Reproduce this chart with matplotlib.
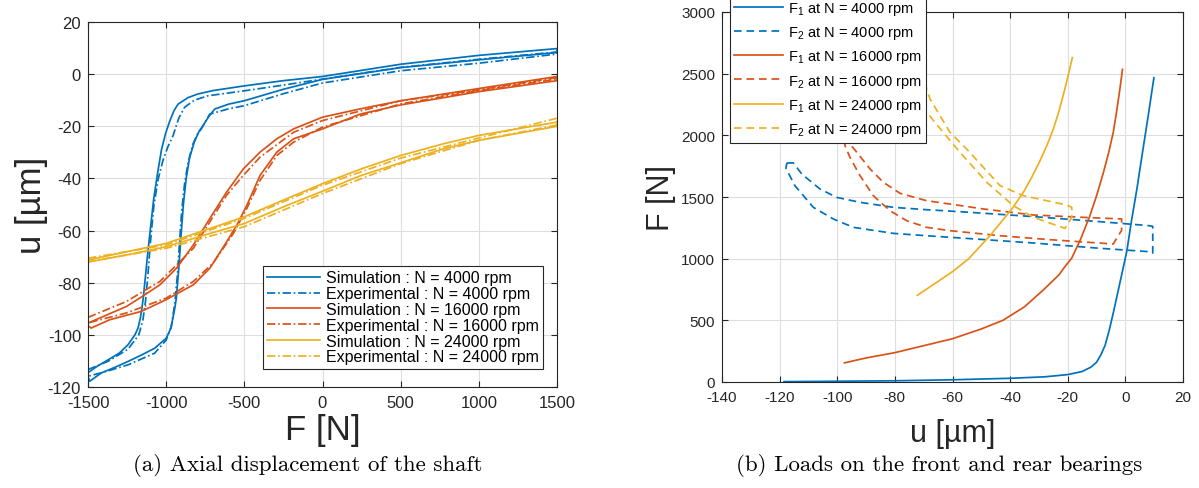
import numpy as np
import matplotlib.pyplot as plt

plt.rcParams['font.family'] = ['Liberation Sans', 'DejaVu Sans']
plt.rcParams['axes.unicode_minus'] = False
plt.rcParams['mathtext.fontset'] = 'custom'
plt.rcParams['mathtext.rm'] = 'Liberation Sans'
plt.rcParams['lines.scale_dashes'] = False

BLUE, RED, YEL = '#0072BD', '#D95319', '#EDB120'
INK = '#262626'

# ---------------- (a) axial displacement u [um] vs axial force F [N] ----------------
# each loop = upper branch + lower branch
sim4k_up_F = [-1500, -1440, -1372, -1300, -1244, -1200, -1180, -1165, -1155, -1145, -1135, -1120, -1103, -1080,
              -1055, -1030, -1005, -980, -950, -924, -860, -797, -700, -500, -250, 0, 500, 1000, 1500]
sim4k_up_u = [-114.5, -112, -109.6, -107, -103.8, -100, -97.4, -93.5, -89.8, -85, -79, -70, -60.5, -48,
              -38, -29, -23, -18.5, -14, -11.5, -9, -7.6, -6.3, -4.5, -2.5, -0.9, 3.8, 7.2, 9.8]
sim4k_lo_F = [-1500, -1489, -1415, -1330, -1244, -1150, -1073, -1000, -970, -957, -945, -935, -920, -905,
              -890, -872, -850, -820, -790, -764, -730, -690, -600, -500, -250, 0, 500, 1000, 1500]
sim4k_lo_u = [-116, -117.8, -114.6, -112.5, -110.2, -107.5, -105.1, -101.3, -97.5, -93.6, -89.8, -86, -75, -62,
              -50, -40, -32, -26, -22, -19.7, -16.5, -13.4, -11.5, -10.2, -5.8, -2.0, 2.5, 5.5, 8.3]
exp4k_up_F = [-1500, -1370, -1244, -1175, -1148, -1132, -1118, -1100, -1078, -1050, -1020, -990,
              -956, -920, -882, -820, -733, -500, -250, 0, 500, 1000, 1500]
exp4k_up_u = [-113.3, -110.1, -105.5, -100, -94, -87, -78, -64, -50, -40, -33, -28,
              -23.6, -17, -12.7, -10, -8.3, -6.4, -4.2, -1.9, 2.6, 5.7, 8.5]
exp4k_lo_F = [-1500, -1370, -1244, -1073, -1000, -967, -945, -928, -915, -900, -882, -860,
              -830, -800, -775, -721, -600, -500, -250, 0, 500, 1000, 1500]
exp4k_lo_u = [-115.9, -113.8, -111.5, -107, -102, -96.8, -88, -77, -65, -52, -42, -34,
              -27, -23, -21, -15.3, -13.3, -12.1, -7.5, -3.4, 1.3, 4.2, 7.7]

sim16k_up_F = [-1500, -1254, -1159, -1040, -933, -826, -720, -613, -506, -399, -292, -185, 0, 243, 501, 1002, 1500]
sim16k_up_u = [-95.5, -89.1, -85.5, -80.8, -74.4, -65.5, -55.3, -45.2, -36.3, -29.9, -24.8, -21.0, -16.5,
               -13.3, -10.2, -5.5, -0.9]
sim16k_lo_F = [-1500, -1480, -1361, -1159, -1000, -826, -720, -613, -548, -484, -399, -292, -185, 0, 243, 501,
               1002, 1500]
sim16k_lo_u = [-96.5, -97.4, -94.2, -91, -86.5, -80.8, -74.4, -64.3, -57.9, -50.3, -38.8, -29.9, -24.8, -21.0,
               -15.3, -11.8, -6.7, -2.5]
exp16k_up_F = [-1500, -1254, -1040, -826, -720, -613, -506, -399, -185, 0, 501, 1002, 1500]
exp16k_up_u = [-93.3, -87.2, -79.5, -66.8, -56.6, -46.4, -38.8, -31.8, -22.3, -17.8, -10.2, -6.0, -1.3]
exp16k_lo_F = [-1500, -1254, -1000, -826, -700, -570, -484, -399, -292, -185, 0, 501, 1002, 1500]
exp16k_lo_u = [-95.4, -91.6, -85.9, -79.5, -72.5, -61.1, -51.5, -40.7, -31.2, -26.1, -20.3, -11.4, -6.3, -1.9]

sim24k_F = [-1500, -1250, -1000, -720, -500, -250, 0, 250, 500, 775, 1000, 1500]
sim24k_up_u = [-71.3, -68.1, -64.9, -59.2, -54.7, -48.3, -42.0, -36.3, -31.2, -26.7, -23.5, -18.4]
sim24k_lo_u = [-72.1, -69.3, -66.2, -61.1, -57.3, -50.9, -44.9, -38.8, -34.0, -28.6, -25.4, -20.0]
exp24k_F = [-1500, -1000, -500, 0, 500, 1000, 1500]
exp24k_up_u = [-70.6, -65.5, -55.3, -42.6, -32.2, -24.5, -16.9]
exp24k_lo_u = [-71.9, -66.8, -58.5, -45.8, -34.3, -25.4, -19.5]

# ---------------- (b) bearing loads F [N] vs displacement u [um] ----------------
f1_4k_u = [-118.5, -100, -80, -60, -40, -28, -20, -15, -12, -10, -8.5, -7, -5.5, -4, -2.5, -1, 0.5, 2, 4, 6, 8, 9.9]
f1_4k_F = [3, 6, 10, 18, 30, 42, 60, 85, 120, 160, 220, 300, 430, 580, 740, 900, 1060, 1290, 1565, 1870, 2170, 2467]
f2_4k_up_u = [-117.5, -115.2, -112.3, -106, -100.2, -92.1, -80.5, -69, -57.4, -31.9, -8.8, 8, 9.5, 9.5]
f2_4k_up_F = [1776, 1776, 1686, 1565, 1497, 1457, 1416, 1397, 1381, 1341, 1300, 1268, 1262, 1150]
f2_4k_lo_u = [-117.8, -114.7, -108.3, -101.3, -94.4, -80.5, -69, -57.4, -31.9, -8.8, 8, 9.5]
f2_4k_lo_F = [1733, 1592, 1416, 1321, 1254, 1205, 1186, 1168, 1127, 1084, 1057, 1045]

f1_16k_u = [-97.5, -90, -80, -60, -50, -42.5, -35, -28.3, -23, -21, -18.6, -15.5, -12.3, -10, -7.6, -5.8,
            -4.2, -3, -1.9, -1.0]
f1_16k_F = [155, 195, 238, 351, 430, 500, 610, 750, 870, 935, 1005, 1160, 1349, 1510, 1700, 1860,
            2024, 2200, 2376, 2535]
f2_16k_up_u = [-97.6, -95.6, -93.2, -88.6, -84, -78.2, -69, -60, -49.3, -31.9, -14.6, -1.3, -1.3]
f2_16k_up_F = [1990, 1930, 1862, 1727, 1619, 1530, 1470, 1440, 1403, 1354, 1335, 1322, 1230]
f2_16k_lo_u = [-97.6, -97.3, -95.6, -92.1, -87.5, -81.7, -75.9, -69, -60.9, -43.5, -26.2, -4.2]
f2_16k_lo_F = [1990, 1916, 1822, 1673, 1511, 1389, 1308, 1254, 1227, 1186, 1154, 1119]

f1_24k_u = [-72.2, -66, -60, -54.5, -47, -39.4, -35.4, -32.5, -29.6, -27.2, -25, -23, -21, -19.6, -18.4]
f1_24k_F = [703, 800, 895, 997, 1186, 1403, 1538, 1660, 1795, 1920, 2051, 2200, 2376, 2510, 2630]
f2_24k_up_u = [-72.5, -67.8, -60.9, -55.1, -49.3, -43.5, -35.4, -20.4, -18.6, -18.6]
f2_24k_up_F = [2620, 2295, 2025, 1889, 1741, 1592, 1511, 1435, 1416, 1335]
f2_24k_lo_u = [-72.5, -69.7, -66.6, -57.4, -48.1, -38.9, -31.9, -21.0]
f2_24k_lo_F = [2620, 2211, 2119, 1862, 1619, 1430, 1335, 1246]


def loop(xa, ya, xb, yb):
    # upper branch forward, lower branch backward, closed
    x = list(xa) + list(xb)[::-1] + [xa[0]]
    y = list(ya) + list(yb)[::-1] + [ya[0]]
    return x, y


DASHDOT = (0, (6, 2, 1.2, 2))
DASHED = (0, (5.5, 3.5))
LW = 1.25

fig = plt.figure(figsize=(11.99, 4.89), dpi=100)
ax1 = fig.add_axes([88 / 1199, 101 / 489, 469 / 1199, 365 / 489])
ax2 = fig.add_axes([722 / 1199, 106 / 489, 461 / 1199, 370 / 489])

series_a = [
    (sim4k_up_F, sim4k_up_u, sim4k_lo_F, sim4k_lo_u, BLUE, '-', 'Simulation : N = 4000 rpm'),
    (exp4k_up_F, exp4k_up_u, exp4k_lo_F, exp4k_lo_u, BLUE, DASHDOT, 'Experimental : N = 4000 rpm'),
    (sim16k_up_F, sim16k_up_u, sim16k_lo_F, sim16k_lo_u, RED, '-', 'Simulation : N = 16000 rpm'),
    (exp16k_up_F, exp16k_up_u, exp16k_lo_F, exp16k_lo_u, RED, DASHDOT, 'Experimental : N = 16000 rpm'),
    (sim24k_F, sim24k_up_u, sim24k_F, sim24k_lo_u, YEL, '-', 'Simulation : N = 24000 rpm'),
    (exp24k_F, exp24k_up_u, exp24k_F, exp24k_lo_u, YEL, DASHDOT, 'Experimental : N = 24000 rpm'),
]
for xa, ya, xb, yb, c, ls, lab in series_a:
    x, y = loop(xa, ya, xb, yb)
    ax1.plot(x, y, color=c, ls=ls, lw=LW, label=lab)

ax2.plot(f1_4k_u, f1_4k_F, color=BLUE, lw=LW, label=r'F$_{\mathrm{1}}$ at N = 4000 rpm')
x, y = loop(f2_4k_up_u, f2_4k_up_F, f2_4k_lo_u, f2_4k_lo_F)
ax2.plot(x, y, color=BLUE, ls=DASHED, lw=LW, label=r'F$_{\mathrm{2}}$ at N = 4000 rpm')
ax2.plot(f1_16k_u, f1_16k_F, color=RED, lw=LW, label=r'F$_{\mathrm{1}}$ at N = 16000 rpm')
x, y = loop(f2_16k_up_u, f2_16k_up_F, f2_16k_lo_u, f2_16k_lo_F)
ax2.plot(x, y, color=RED, ls=DASHED, lw=LW, label=r'F$_{\mathrm{2}}$ at N = 16000 rpm')
ax2.plot(f1_24k_u, f1_24k_F, color=YEL, lw=LW, label=r'F$_{\mathrm{1}}$ at N = 24000 rpm')
x, y = loop(f2_24k_up_u, f2_24k_up_F, f2_24k_lo_u, f2_24k_lo_F)
ax2.plot(x, y, color=YEL, ls=DASHED, lw=LW, label=r'F$_{\mathrm{2}}$ at N = 24000 rpm')

ax1.set_xlim(-1500, 1500)
ax1.set_ylim(-120, 20)
ax1.set_xticks(np.arange(-1500, 1501, 500))
ax1.set_yticks(np.arange(-120, 21, 20))
ax2.set_xlim(-140, 20)
ax2.set_ylim(0, 3000)
ax2.set_xticks(np.arange(-140, 21, 20))
ax2.set_yticks(np.arange(0, 3001, 500))

for ax, fs in ((ax1, 12), (ax2, 11)):
    ax.grid(True, color='#dedede', lw=0.8)
    ax.set_axisbelow(True)
    ax.tick_params(direction='in', top=True, right=True, length=4, width=0.8,
                   colors=INK, labelsize=fs)
    ax.tick_params(axis='x', pad=6)
    ax.tick_params(axis='y', pad=5)
    for s in ax.spines.values():
        s.set_color(INK)
        s.set_linewidth(0.8)

ax1.set_xlabel('F [N]', fontsize=25, color=INK)
ax1.xaxis.set_label_coords(0.5, -0.072)
ax1.set_ylabel('u [µm]', fontsize=25, color=INK)
ax1.yaxis.set_label_coords(-0.085, 0.5)
ax2.set_xlabel('u [µm]', fontsize=22, color=INK)
ax2.xaxis.set_label_coords(0.5, -0.098)
ax2.set_ylabel('F [N]', fontsize=22, color=INK)
ax2.yaxis.set_label_coords(-0.1, 0.5)

leg1 = ax1.legend(loc='lower right', bbox_to_anchor=(0.971, 0.049), fontsize=11.5, frameon=True,
                  fancybox=False, framealpha=1, edgecolor=INK, borderpad=0.3, labelspacing=0.05,
                  handlelength=3.3, handletextpad=0.35, borderaxespad=0)
leg1.get_frame().set_linewidth(0.8)
leg2 = ax2.legend(loc='upper left', bbox_to_anchor=(0.017, 1.045), fontsize=10.5, frameon=True,
                  fancybox=False, framealpha=1, edgecolor=INK, borderpad=0.3, labelspacing=0.5,
                  handlelength=3.35, handletextpad=0.35, borderaxespad=0)
leg2.get_frame().set_linewidth(0.8)

fig.text(308 / 1199, 1 - 466 / 489, '(a) Axial displacement of the shaft', ha='center', va='center',
         family='cmr10', fontsize=16.5)
fig.text(939 / 1199, 1 - 466 / 489, '(b) Loads on the front and rear bearings', ha='center', va='center',
         family='cmr10', fontsize=16.5)

fig.savefig('out.png', dpi=100)
